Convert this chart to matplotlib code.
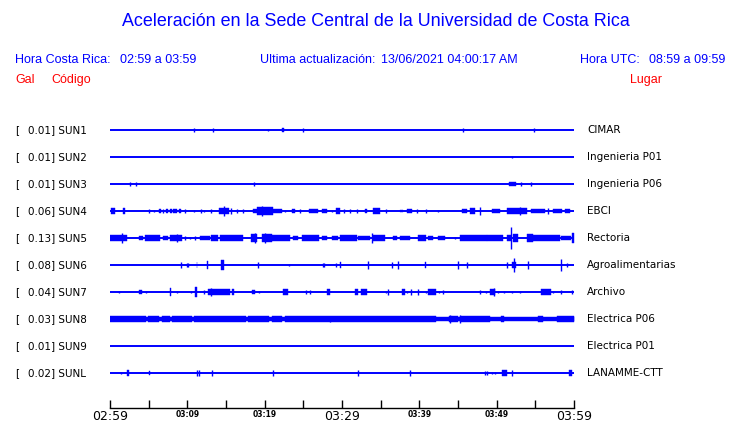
import matplotlib
matplotlib.use("Agg")
import matplotlib.pyplot as plt

# --- data -------------------------------------------------------------
codes = ["SUN1", "SUN2", "SUN3", "SUN4", "SUN5", "SUN6", "SUN7", "SUN8", "SUN9", "SUNL"]
peaks = [0.01, 0.01, 0.01, 0.06, 0.13, 0.08, 0.04, 0.03, 0.01, 0.02]
places = ["CIMAR", "Ingenieria P01", "Ingenieria P06", "EBCI", "Rectoria",
          "Agroalimentarias", "Archivo", "Electrica P06", "Electrica P01", "LANAMME-CTT"]

# events per station: (start minute, end minute, half amplitude in gal)
sun1 = [(10.9, 10.9, 0.022), (13.3, 13.3, 0.022), (20.4, 20.4, 0.015), (22.3, 22.5, 0.02),
        (25.0, 25.0, 0.022), (45.6, 45.6, 0.022), (54.8, 54.8, 0.022)]
sun2 = [(52.0, 52.0, 0.015)]
sun3 = [(2.6, 2.6, 0.022), (3.4, 3.4, 0.022), (18.6, 18.6, 0.022), (51.6, 52.5, 0.022),
        (53.1, 53.1, 0.02), (54.5, 54.5, 0.022)]
sun4 = [(0.1, 0.6, 0.03), (1.7, 2.0, 0.03), (5.1, 5.1, 0.02), (5.7, 5.7, 0.015), (6.4, 6.6, 0.02),
        (6.9, 6.9, 0.02), (7.3, 7.5, 0.02), (7.8, 8.0, 0.02), (8.2, 8.6, 0.02), (8.9, 9.2, 0.02),
        (9.7, 9.7, 0.02), (10.9, 10.9, 0.015), (11.8, 11.8, 0.02), (12.1, 12.1, 0.015),
        (13.1, 13.1, 0.02), (14.1, 15.4, 0.035), (14.8, 14.8, 0.055), (15.7, 15.7, 0.03),
        (16.4, 16.4, 0.02), (17.2, 17.2, 0.02), (18.5, 22.2, 0.025), (19.0, 21.1, 0.045),
        (19.6, 19.6, 0.06), (22.6, 22.6, 0.015), (23.5, 23.9, 0.02), (24.6, 24.6, 0.025),
        (25.7, 26.9, 0.02), (27.4, 28.0, 0.02), (28.7, 28.7, 0.015), (29.2, 29.7, 0.03),
        (30.2, 30.2, 0.02), (31.0, 31.0, 0.02), (31.9, 31.9, 0.02), (33.0, 33.2, 0.02),
        (34.0, 34.9, 0.03), (35.7, 35.7, 0.02), (37.5, 37.9, 0.015), (38.4, 39.1, 0.02),
        (39.7, 39.7, 0.02), (40.9, 40.9, 0.025), (42.4, 42.4, 0.015), (45.5, 46.1, 0.02),
        (46.6, 47.2, 0.03), (47.8, 47.8, 0.045), (49.4, 50.4, 0.02), (51.3, 53.9, 0.03),
        (53.0, 53.0, 0.045), (54.5, 56.3, 0.025), (56.7, 56.7, 0.04), (57.3, 58.4, 0.02),
        (58.8, 59.5, 0.025)]
sun5 = [(0.0, 2.2, 0.035), (1.5, 1.5, 0.06), (3.7, 4.3, 0.025), (4.5, 6.5, 0.03), (6.9, 7.5, 0.02),
        (7.8, 9.3, 0.03), (8.7, 8.7, 0.05), (9.7, 9.7, 0.02), (10.4, 10.4, 0.015), (11.0, 11.0, 0.02),
        (11.6, 12.9, 0.025), (13.1, 14.0, 0.04), (14.2, 17.2, 0.035), (18.2, 19.0, 0.045),
        (18.7, 18.7, 0.065), (19.6, 20.9, 0.05), (20.0, 20.0, 0.06), (20.9, 23.3, 0.03),
        (23.7, 24.3, 0.025), (24.8, 27.0, 0.03), (27.4, 28.0, 0.025), (28.7, 29.5, 0.025),
        (29.7, 31.9, 0.035), (32.1, 33.6, 0.025), (33.9, 33.9, 0.065), (34.0, 35.6, 0.03),
        (36.6, 37.1, 0.02), (37.5, 38.8, 0.025), (39.8, 40.9, 0.035), (41.1, 41.8, 0.025),
        (42.4, 43.3, 0.025), (44.6, 44.6, 0.015), (45.3, 48.7, 0.03), (48.7, 50.8, 0.03),
        (51.3, 51.9, 0.04), (51.9, 51.9, 0.13), (52.1, 52.8, 0.05), (53.9, 54.7, 0.05),
        (54.7, 58.2, 0.03), (58.3, 59.6, 0.02), (59.7, 60.0, 0.06)]
sun6 = [(9.2, 9.2, 0.03), (9.9, 9.9, 0.02), (10.1, 10.1, 0.02), (11.2, 11.3, 0.03), (12.6, 12.7, 0.05),
        (14.4, 14.8, 0.065), (19.1, 19.1, 0.03), (23.2, 23.2, 0.015), (27.5, 27.5, 0.025),
        (27.7, 27.7, 0.025), (29.2, 29.2, 0.02), (29.7, 29.9, 0.03), (33.3, 33.3, 0.05),
        (36.5, 36.5, 0.03), (37.2, 37.2, 0.045), (40.7, 40.8, 0.035), (45.0, 45.0, 0.045),
        (46.2, 46.2, 0.03), (51.4, 51.4, 0.03), (52.0, 52.5, 0.04), (52.2, 52.2, 0.085),
        (54.0, 54.0, 0.05), (58.3, 58.3, 0.075), (59.1, 59.1, 0.02)]
sun7 = [(1.2, 1.2, 0.015), (3.7, 4.2, 0.025), (4.7, 4.7, 0.015), (7.7, 7.9, 0.045), (8.7, 8.7, 0.01),
        (10.5, 10.5, 0.015), (11.0, 11.2, 0.055), (12.1, 12.1, 0.02), (12.7, 15.5, 0.03),
        (13.1, 13.1, 0.05), (15.8, 16.0, 0.04), (18.3, 18.7, 0.02), (19.3, 19.3, 0.015),
        (22.4, 23.0, 0.03), (25.4, 25.4, 0.025), (25.8, 25.8, 0.025), (28.0, 28.4, 0.03),
        (31.7, 32.1, 0.04), (32.5, 33.2, 0.03), (35.7, 35.7, 0.015), (35.9, 35.9, 0.03),
        (37.8, 38.1, 0.03), (38.4, 38.4, 0.015), (38.9, 38.9, 0.03), (39.8, 39.8, 0.03),
        (40.9, 40.9, 0.015), (41.1, 42.2, 0.035), (42.5, 42.5, 0.015), (43.1, 43.1, 0.025),
        (47.8, 47.8, 0.02), (48.6, 48.6, 0.01), (49.1, 49.8, 0.03), (49.6, 49.6, 0.05),
        (50.2, 50.2, 0.015), (50.9, 50.9, 0.015), (52.0, 52.0, 0.015), (53.0, 53.0, 0.015),
        (55.7, 57.0, 0.04), (57.3, 57.3, 0.015), (58.3, 58.3, 0.02), (59.8, 59.8, 0.02)]
sun8 = [(0.0, 4.6, 0.03), (4.6, 4.9, 0.02), (4.9, 6.4, 0.03), (6.4, 6.7, 0.02), (6.7, 7.7, 0.03),
        (7.7, 8.0, 0.02), (8.0, 10.6, 0.03), (10.6, 10.9, 0.02), (10.9, 17.6, 0.03),
        (17.6, 17.9, 0.02), (17.9, 20.6, 0.03), (20.6, 20.9, 0.02), (20.9, 22.3, 0.03),
        (22.3, 22.6, 0.02), (22.6, 42.2, 0.03), (28.4, 28.4, 0.04), (42.2, 60.0, 0.02),
        (43.8, 44.2, 0.035), (44.0, 44.0, 0.05), (44.2, 45.0, 0.03), (45.2, 45.2, 0.045),
        (45.3, 49.1, 0.035), (50.6, 50.9, 0.04), (55.4, 56.0, 0.03), (57.8, 60.0, 0.03)]
sun9 = []
sunl = [(1.4, 1.4, 0.01), (2.2, 2.4, 0.03), (5.0, 5.2, 0.02), (11.2, 11.2, 0.03), (11.5, 11.5, 0.03),
        (13.2, 13.2, 0.03), (21.1, 21.1, 0.03), (32.1, 32.1, 0.03), (38.8, 38.8, 0.03),
        (48.5, 48.5, 0.02), (48.8, 48.8, 0.02), (49.4, 49.4, 0.01), (49.8, 49.8, 0.01),
        (50.7, 51.3, 0.04), (52.0, 52.0, 0.03), (59.4, 59.8, 0.03)]
events = [sun1, sun2, sun3, sun4, sun5, sun6, sun7, sun8, sun9, sunl]

tick_minutes = [0, 5, 10, 15, 20, 25, 30, 35, 40, 45, 50, 55, 60]
tick_labels = ["02:59", "", "03:09", "", "03:19", "", "03:29", "", "03:39", "", "03:49", "", "03:59"]
big_labels = ["02:59", "03:29", "03:59"]

BLUE = "#0000ff"
W, H = 740, 423
GAIN = 84 / 27.0   # trace units per gal (spacing between traces = 1)


def fx(px):
    return px / W


def fy(py):
    return 1 - py / H


fig = plt.figure(figsize=(7.4, 4.23), dpi=100)

# header texts
sans = "Liberation Sans"
fig.text(fx(376), fy(22), "Aceleración en la Sede Central de la Universidad de Costa Rica",
         ha="center", va="center", fontsize=12.9, color=BLUE, family=sans)
fig.text(fx(15), fy(60), "Hora Costa Rica:", ha="left", va="center", fontsize=9, color=BLUE, family=sans)
fig.text(fx(120), fy(60), "02:59 a 03:59", ha="left", va="center", fontsize=9, color=BLUE, family=sans)
fig.text(fx(260), fy(60), "Ultima actualización:", ha="left", va="center", fontsize=9, color=BLUE, family=sans)
fig.text(fx(381), fy(60), "13/06/2021 04:00:17 AM", ha="left", va="center", fontsize=9, color=BLUE, family=sans)
fig.text(fx(580), fy(60), "Hora UTC:", ha="left", va="center", fontsize=9, color=BLUE, family=sans)
fig.text(fx(725), fy(60), "08:59 a 09:59", ha="right", va="center", fontsize=9, color=BLUE, family=sans)
fig.text(fx(15), fy(80), "Gal", ha="left", va="center", fontsize=9, color="red", family=sans)
fig.text(fx(51), fy(80), "Código", ha="left", va="center", fontsize=9, color="red", family=sans)
fig.text(fx(662), fy(80), "Lugar", ha="right", va="center", fontsize=9, color="red", family=sans)

# trace axes: x in minutes, y in trace index
top_px, bot_px, first_px, step_px = 116, 408, 130, 27
ax = fig.add_axes([fx(110), fy(bot_px), (574 - 110) / W, (bot_px - top_px) / H])
ax.set_xlim(0, 60)
ax.set_ylim((bot_px - first_px) / step_px, (top_px - first_px) / step_px)

for i, evs in enumerate(events):
    ax.hlines(i, 0, 60, color=BLUE, lw=1.4)
    for t0, t1, a in evs:
        h = a * GAIN
        if t1 > t0:
            ax.fill_between([t0, t1], i - h, i + h, color=BLUE, lw=0.3)
        else:
            ax.vlines(t0, i - h, i + h, color=BLUE, lw=1.0)
    y = fy(first_px + step_px * i)
    fig.text(fx(15), y, "[", ha="left", va="center", fontsize=7.5)
    fig.text(fx(27.5), y, f"{peaks[i]:.2f}] {codes[i]}", ha="left", va="center", fontsize=7.5)
    fig.text(fx(587), y, places[i], ha="left", va="center", fontsize=7.5)

for s in ["top", "left", "right"]:
    ax.spines[s].set_visible(False)
ax.spines["bottom"].set_linewidth(1.0)
ax.set_yticks([])
ax.set_xticks(tick_minutes)
ax.set_xticklabels(tick_labels)
ax.tick_params(axis="x", direction="in", length=6, width=1, pad=1.5)
for lbl in ax.get_xticklabels():
    if lbl.get_text() in big_labels:
        lbl.set_fontsize(9)
    else:
        lbl.set_fontsize(6)
        lbl.set_fontweight("bold")
        lbl.set_fontstretch("condensed")

fig.savefig("out.png", dpi=100)
